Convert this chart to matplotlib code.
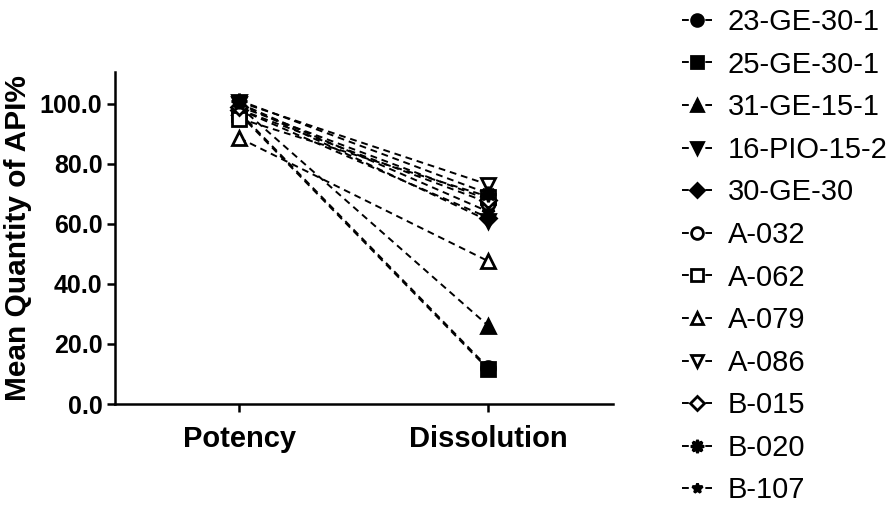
import numpy as np
import matplotlib
matplotlib.use('Agg')
import matplotlib.pyplot as plt

plt.rcParams['font.family'] = ['Liberation Sans', 'DejaVu Sans']

# data
categories = ['Potency', 'Dissolution']
samples = ['23-GE-30-1', '25-GE-30-1', '31-GE-15-1', '16-PIO-15-2', '30-GE-30',
           'A-032', 'A-062', 'A-079', 'A-086', 'B-015', 'B-020', 'B-107']
potency = [97.0, 96.5, 99.0, 100.0, 98.0, 98.0, 95.0, 88.5, 100.5, 99.0, 101.0, 100.0]
dissolution = [12.0, 11.5, 26.0, 61.0, 62.0, 67.0, 69.0, 47.5, 73.0, 68.0, 70.0, 64.0]

markers = ['o', 's', '^', 'v', 'D', 'o', 's', '^', 'v', 'D', (8, 1, 0), '*']
filled = [True, True, True, True, True, False, False, False, False, False, True, True]
msizes = [10, 10, 10, 10, 8, 10, 10, 10, 10, 8, 11, 9]

fig = plt.figure(figsize=(8.94, 5.14), dpi=100)
ax = fig.add_axes([0.1286, 0.214, 0.557, 0.646])

x = np.arange(len(categories))
for i, name in enumerate(samples):
    ax.plot(x, [potency[i], dissolution[i]], color='black', lw=1.4,
            linestyle=(0, (3.5, 2.5)), marker=markers[i], markersize=msizes[i],
            markerfacecolor='black' if filled[i] else 'white',
            markeredgecolor='black', markeredgewidth=2.0, label=name)

ax.set_xlim(-0.5, 1.5)
ax.set_ylim(0, 110.5)
ax.set_xticks(x)
ax.set_xticklabels(categories, fontsize=21, fontweight='bold')
ax.set_yticks(np.arange(0, 101, 20))
ax.set_yticklabels([f'{v:.1f}' for v in np.arange(0, 101, 20)], fontsize=18, fontweight='bold')
ax.set_ylabel('Mean Quantity of API%', fontsize=21.5, fontweight='bold', labelpad=6)

for s in ['top', 'right']:
    ax.spines[s].set_visible(False)
for s in ['left', 'bottom']:
    ax.spines[s].set_linewidth(1.8)
ax.tick_params(axis='both', width=1.8, length=6, pad=3)
ax.tick_params(axis='x', pad=9)

leg = ax.legend(loc='upper left', bbox_to_anchor=(0.760, 0.99), bbox_transform=fig.transFigure,
                frameon=False, fontsize=21, handlelength=1.0, handletextpad=0.55,
                labelspacing=0.5, borderaxespad=0.0, borderpad=0.1, markerscale=0.85)

fig.savefig('out.png', dpi=100)
